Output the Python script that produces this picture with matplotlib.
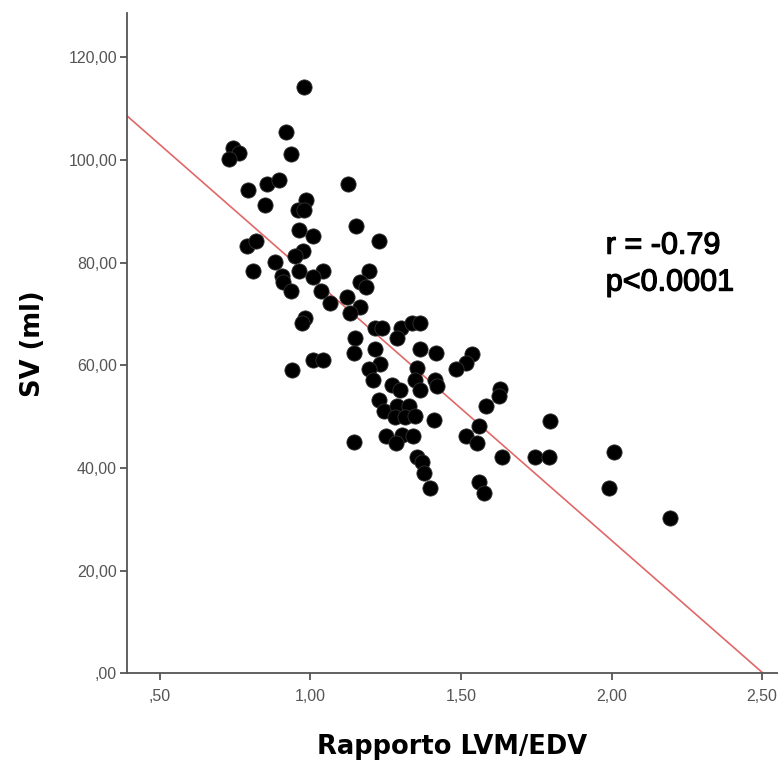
import numpy as np
import matplotlib
matplotlib.use("Agg")
import matplotlib.pyplot as plt
import matplotlib.patheffects as pe
from matplotlib.ticker import FuncFormatter

# LVM/EDV ratio and stroke volume
ratio = [0.98, 0.918, 0.934, 0.743, 0.763, 0.729, 0.793, 0.854, 0.896, 0.848,
         0.985, 0.957, 0.978, 1.126, 1.152, 0.963, 1.007, 1.229, 0.789, 0.818,
         0.974, 0.948, 0.882, 0.809, 0.963, 1.043, 1.193, 0.904, 0.909, 1.009,
         1.165, 1.185, 0.937, 1.034, 1.12, 1.065, 1.163, 1.132, 0.982, 0.971,
         1.215, 1.237, 1.30, 1.337, 1.363, 1.287, 1.148, 1.215, 1.143, 1.363,
         1.418, 1.009, 1.041, 0.939, 1.537, 1.515, 1.485, 1.232, 1.193, 1.354,
         1.209, 1.348, 1.415, 1.421, 1.271, 1.298, 1.365, 1.629, 1.626, 1.229,
         1.582, 1.243, 1.287, 1.326, 1.282, 1.315, 1.348, 1.412, 1.559, 1.796,
         1.143, 1.252, 1.304, 1.341, 1.285, 1.518, 1.554, 1.354, 1.371, 1.376,
         1.398, 1.559, 1.576, 1.637, 1.745, 1.793, 2.007, 1.993, 2.193]
sv = [114.3, 105.4, 101.2, 102.4, 101.4, 100.2, 94.2, 95.3, 96.2, 91.3,
      92.2, 90.2, 90.2, 95.3, 87.2, 86.3, 85.2, 84.3, 83.2, 84.3,
      82.2, 81.3, 80.2, 78.3, 78.3, 78.3, 78.3, 77.4, 76.3, 77.2,
      76.3, 75.2, 74.4, 74.4, 73.3, 72.2, 71.3, 70.3, 69.2, 68.2,
      67.3, 67.3, 67.3, 68.2, 68.2, 65.3, 65.3, 63.2, 62.4, 63.2,
      62.4, 61.1, 61.1, 59.1, 62.3, 60.4, 59.3, 60.3, 59.3, 59.5,
      57.2, 57.2, 57.2, 56.0, 56.2, 55.2, 55.2, 55.4, 54.1, 53.3,
      52.1, 51.2, 52.1, 52.1, 50.0, 50.0, 50.1, 49.3, 48.2, 49.2,
      45.1, 46.3, 46.4, 46.3, 44.9, 46.3, 44.9, 42.2, 41.2, 39.1,
      36.1, 37.2, 35.1, 42.2, 42.1, 42.1, 43.2, 36.1, 30.2]

# regression line as drawn
intercept = 128.7
slope = -51.4

x_ticks = [0.5, 1.0, 1.5, 2.0, 2.5]
y_ticks = [0, 20, 40, 60, 80, 100, 120]

def spss_fmt(v, pos):
    s = f"{v:.2f}".replace(".", ",")
    if s.startswith("0,"):
        s = s[1:]
    return s

fig = plt.figure(figsize=(7.78, 7.71), dpi=100)
ax = fig.add_axes([0.163, 0.1267, 0.837, 0.856])

xmin, xmax = 0.39, 2.553
ax.set_xlim(xmin, xmax)
ax.set_ylim(0, 128.6)

xl = np.array([xmin, xmax])
ax.plot(xl, intercept + slope * xl, color="#e06868", lw=1.2, zorder=2)
ax.scatter(ratio, sv, s=120, c="black", edgecolors="#333333", linewidths=0.6, zorder=3)

for side in ["top", "right"]:
    ax.spines[side].set_visible(False)
for side in ["left", "bottom"]:
    ax.spines[side].set_color("#555555")
    ax.spines[side].set_linewidth(1.3)

ax.set_xticks(x_ticks)
ax.set_yticks(y_ticks)
ax.xaxis.set_major_formatter(FuncFormatter(spss_fmt))
ax.yaxis.set_major_formatter(FuncFormatter(spss_fmt))
ax.tick_params(axis="both", direction="out", length=5, width=1.3, color="#555555",
               labelcolor="#555555", labelsize=11.5, pad=2)
for lab in ax.get_xticklabels() + ax.get_yticklabels():
    lab.set_family("Liberation Sans")
ax.tick_params(axis="x", pad=6)

ax.set_xlabel("Rapporto LVM/EDV", fontsize=18.5, fontweight="bold", labelpad=22)
ax.set_ylabel("SV (ml)", fontsize=18.5, fontweight="bold", labelpad=16)

ax.text(0.7355, 0.62, "r = -0.79\np<0.0001", transform=ax.transAxes,
        fontsize=22, family="Liberation Sans", linespacing=1.3, va="center", ha="left",
        path_effects=[pe.withStroke(linewidth=0.9, foreground="black")])

fig.savefig("out.png", dpi=100)
